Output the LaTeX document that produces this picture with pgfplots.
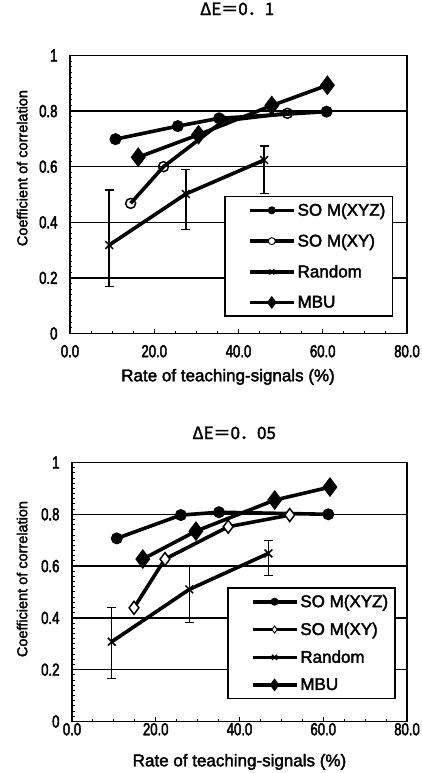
\documentclass[border=0pt]{standalone}
\usepackage{fontspec}
\setmainfont{Liberation Sans}[FakeBold=2.2]
\newfontfamily\tnfont{Liberation Sans}[FakeStretch=0.75,FakeBold=2.5]
\newfontfamily\jpfont{Noto Sans CJK JP}[FakeBold=2]
\usepackage{pgfplots}
\pgfplotsset{compat=1.18}

\pgfplotsset{
 myaxis/.style={
  scale only axis,
  xmin=0, xmax=80, ymin=0, ymax=1,
  xtick={0,20,40,60,80}, xticklabels={0.0,20.0,40.0,60.0,80.0},
  ytick={0,0.2,0.4,0.6,0.8,1}, yticklabels={0,0.2,0.4,0.6,0.8,1},
  minor x tick num=3, minor y tick num=9,
  tick align=inside, tick pos=left,
  major tick length=4pt, minor tick length=2.5pt,
  ymajorgrids, major grid style={black, line width=1.5pt},
  axis line style={line width=1.8pt},
  every tick/.style={black, line width=1pt},
  tick label style={font=\tnfont\fontsize{17.5}{19}\selectfont},
  yticklabel style={xshift=-9pt},
  /pgf/number format/assume math mode=true,
  xlabel style={font=\fontsize{17}{19}\selectfont},
  ylabel style={font=\fontsize{14.5}{16}\selectfont},
  legend cell align=left,
  legend style={draw=black, line width=1.5pt, fill=white,
    font=\fontsize{17}{19}\selectfont, row sep=13pt, inner sep=5pt},
  legend image code/.code={\path (-18pt,0pt); \draw[mark repeat=2,mark phase=2,##1,mark size=3.5pt] plot coordinates {(0pt,0pt) (22pt,0pt) (44pt,0pt)};},
 },
 sxyz/.style={black, line width=3.6pt, mark=*, mark size=5.5pt, mark options={solid, fill=black, line width=1pt}},
 sxy/.style={black, line width=3.6pt, mark=o, mark size=5pt, mark options={solid, fill=white, line width=1.5pt},
   legend image post style={mark=*, mark size=3.2pt, mark options={solid, fill=white, line width=0.9pt}}},
 sxyd/.style={black, line width=3.6pt, mark=diamond*, mark size=6.5pt, mark options={solid, fill=white, line width=1.5pt},
   legend image post style={mark size=4pt, mark options={solid, fill=white, line width=0.9pt}}},
 srnd/.style={black, line width=3.6pt, mark=x, mark size=5.5pt, mark options={solid, line width=1.5pt},
   error bars/.cd, y dir=both, y explicit,
   error bar style={line width=1.4pt},
   error mark options={rotate=90, mark size=4.5pt, line width=1.4pt}},
 smbu/.style={black, line width=3.6pt, mark=diamond*, mark size=7pt, mark options={solid, fill=black}},
}

\begin{document}
\begin{tikzpicture}
\path[use as bounding box] (0pt,0pt) rectangle (422pt,773pt);

% top chart
\begin{axis}[myaxis,
  at={(70pt,439.5pt)}, anchor=south west,
  width=337pt, height=278pt,
  xticklabel style={yshift=-8pt},
  title={ΔE＝0．1},
  title style={at={(axis description cs:0.496,1.146)}, anchor=center, font=\jpfont\fontsize{17}{19}\selectfont},
  xlabel={Rate of teaching-signals (\%)},
  xlabel style={at={(axis description cs:0.469,-0.156)}, anchor=center},
  ylabel={Coefficient of correlation},
  ylabel style={at={(axis description cs:-0.142,0.595)}, anchor=center},
  legend style={at={(0.959,0.060)}, anchor=south east},
]
\addplot[sxyz] coordinates {(10.8,0.699) (25.6,0.746) (35.4,0.774) (60.9,0.798)};
\addlegendentry{SO M(XYZ)}
\addplot[sxy] coordinates {(14.4,0.468) (22.2,0.600) (36.4,0.765) (51.6,0.792)};
\addlegendentry{SO M(XY)}
\addplot[srnd] coordinates {
  (9.3,0.318) += (0,0.198) -= (0,0.150)
  (27.5,0.502) += (0,0.088) -= (0,0.127)
  (46.1,0.624) += (0,0.050) -= (0,0.120)};
\addlegendentry{Random}
\addplot[smbu] coordinates {(16.2,0.634) (30.5,0.715) (47.9,0.820) (61.1,0.893)};
\addlegendentry{MBU}
\end{axis}

% bottom chart
\begin{axis}[myaxis,
  at={(72pt,51.5pt)}, anchor=south west,
  width=335pt, height=259pt,
  xticklabel style={yshift=2pt},
  title={ΔE＝0．05},
  title style={at={(axis description cs:0.484,1.091)}, anchor=center, font=\jpfont\fontsize{17}{19}\selectfont},
  xlabel={Rate of teaching-signals (\%)},
  xlabel style={at={(axis description cs:0.5,-0.156)}, anchor=center},
  ylabel={Coefficient of correlation},
  ylabel style={at={(axis description cs:-0.149,0.55)}, anchor=center},
  legend style={at={(0.967,0.086)}, anchor=south east, row sep=10pt},
]
\addplot[sxyz] coordinates {(10.7,0.707) (26.0,0.797) (35.1,0.808) (61.2,0.800)};
\addlegendentry{SO M(XYZ)}
\addplot[sxyd] coordinates {(14.8,0.439) (22.2,0.627) (37.3,0.752) (52.0,0.797)};
\addlegendentry{SO M(XY)}
\addplot[srnd] coordinates {
  (9.5,0.308) += (0,0.133) -= (0,0.141)
  (28.0,0.510) += (0,0.090) -= (0,0.127)
  (46.9,0.649) += (0,0.049) -= (0,0.086)};
\addlegendentry{Random}
\addplot[smbu] coordinates {(16.9,0.627) (29.6,0.735) (48.4,0.855) (61.6,0.905)};
\addlegendentry{MBU}
\end{axis}
\end{tikzpicture}
\end{document}
